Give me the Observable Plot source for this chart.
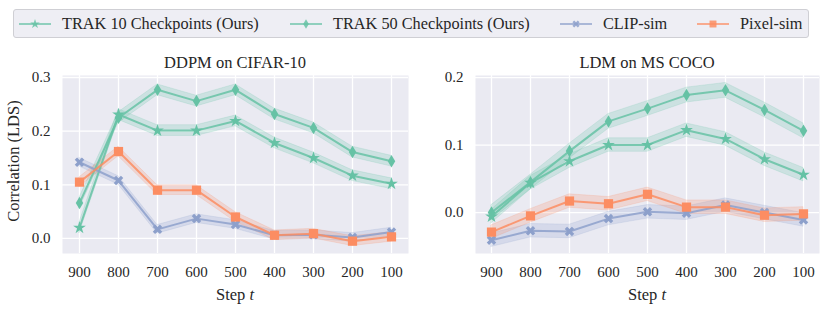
<!DOCTYPE html>
<html><head><meta charset="utf-8">
<script src="https://cdn.jsdelivr.net/npm/d3@7"></script>
<script src="https://cdn.jsdelivr.net/npm/@observablehq/plot@0.6"></script>
<style>
body{margin:0;background:#fff;font-family:"Liberation Serif",serif;}
#wrap{position:relative;width:830px;height:314px;overflow:hidden}
#legend{position:absolute;left:13px;top:9px;width:794px;height:27px;border:1px solid #cfcfd4;border-radius:3px;background:#eeeef4;}
.item{position:absolute;top:0;height:27px;display:flex;align-items:center;font-size:16.3px;color:#262626;white-space:nowrap}
.item svg{margin-right:11px}
#left{position:absolute;left:0;top:45px}
#right{position:absolute;left:415px;top:45px}
svg text{font-family:"Liberation Serif",serif !important;}
</style></head><body>
<div id="wrap"><div id="legend"></div><div id="left"></div><div id="right"></div></div>
<script>
// ---------- data ----------
const steps = [900, 800, 700, 600, 500, 400, 300, 200, 100];
const seriesNames = ["TRAK 10 Checkpoints (Ours)", "TRAK 50 Checkpoints (Ours)", "CLIP-sim", "Pixel-sim"];
const seriesColors = ["#66c2a5", "#66c2a5", "#8da0cb", "#fc8d62"];

// DDPM on CIFAR-10
const ddpmTrak10 = [0.020, 0.231, 0.201, 0.201, 0.219, 0.178, 0.150, 0.117, 0.102];
const ddpmTrak50 = [0.066, 0.225, 0.277, 0.256, 0.277, 0.232, 0.206, 0.161, 0.144];
const ddpmClip   = [0.142, 0.108, 0.017, 0.037, 0.026, 0.006, 0.007, 0.002, 0.012];
const ddpmPixel  = [0.105, 0.162, 0.090, 0.090, 0.040, 0.006, 0.009, -0.005, 0.003];
const ddpmErr    = [0.010, 0.010, 0.008, 0.009];
const ddpmTicks  = [0, 0.1, 0.2, 0.3];

// LDM on MS COCO
const ldmTrak10 = [-0.006, 0.044, 0.076, 0.100, 0.100, 0.122, 0.109, 0.079, 0.056];
const ldmTrak50 = [0.000, 0.045, 0.091, 0.135, 0.154, 0.174, 0.181, 0.152, 0.121];
const ldmClip   = [-0.041, -0.027, -0.028, -0.009, 0.001, -0.001, 0.011, 0.000, -0.011];
const ldmPixel  = [-0.029, -0.005, 0.017, 0.013, 0.027, 0.008, 0.008, -0.004, -0.002];
const ldmErr    = [0.010, 0.011, 0.010, 0.010];
const ldmTicks  = [0, 0.1, 0.2];

// ---------- symbols ----------
const thinDiamond = {draw(ctx, size) {
  const r = Math.sqrt(size / Math.PI);
  ctx.moveTo(0, -r * 1.25); ctx.lineTo(r * 0.75, 0); ctx.lineTo(0, r * 1.25); ctx.lineTo(-r * 0.75, 0); ctx.closePath();
}};
const filledX = {draw(ctx, size) {
  const r = Math.sqrt(size / Math.PI), a = r * 1.1, t = r * 0.36;
  const pts = [[-t,-a],[t,-a],[t,-t],[a,-t],[a,t],[t,t],[t,a],[-t,a],[-t,t],[-a,t],[-a,-t],[-t,-t]];
  pts.forEach(([x, y], i) => {
    const X = (x - y) / Math.SQRT2, Y = (x + y) / Math.SQRT2;
    i ? ctx.lineTo(X, Y) : ctx.moveTo(X, Y);
  });
  ctx.closePath();
}};
const seriesSymbols = [d3.symbolStar, thinDiamond, filledX, d3.symbolSquare];
const seriesR = [4.0, 5.0, 4.6, 5.2];

const FONT = "Liberation Serif";
const LABEL_SIZE = 16.5;

function panel({vals, err, yDomain, yTicks, width, marginLeft, marginRight, padding, title, ylabel}) {
  const rows = [];
  seriesNames.forEach((s, i) => steps.forEach((t, j) => {
    const v = vals[i][j];
    rows.push({series: s, step: t, v, lo: v - err[i], hi: v + err[i]});
  }));
  const marks = [
    Plot.frame({fill: "#eaeaf2", stroke: null}),
    Plot.ruleY(yTicks, {stroke: "white", strokeWidth: 1.3}),
    Plot.ruleX(steps, {stroke: "white", strokeWidth: 1.3}),
  ];
  seriesNames.forEach((s, i) => {
    const d = rows.filter(r => r.series === s);
    marks.push(Plot.areaY(d, {x: "step", y1: "lo", y2: "hi", fill: seriesColors[i], fillOpacity: 0.22, stroke: seriesColors[i], strokeOpacity: 0.18, strokeWidth: 1}));
  });
  seriesNames.forEach((s, i) => {
    const d = rows.filter(r => r.series === s);
    marks.push(Plot.line(d, {x: "step", y: "v", stroke: seriesColors[i], strokeWidth: 2, strokeOpacity: 0.85}));
    marks.push(Plot.dot(d, {x: "step", y: "v", fill: seriesColors[i], symbol: seriesSymbols[i], r: seriesR[i], stroke: null}));
  });
  const svg = Plot.plot({
    width, height: 269,
    marginLeft, marginRight, marginTop: 30, marginBottom: 61,
    style: {fontFamily: FONT, fontSize: "15px", color: "#262626", background: "transparent"},
    x: {type: "point", domain: steps, padding, tickSize: 0, tickPadding: 13, label: null},
    y: {domain: yDomain, ticks: yTicks, tickFormat: d3.format(".1f"), tickSize: 0, tickPadding: 12, label: null},
    marks
  });
  const s = d3.select(svg);
  s.selectAll("text").attr("font-family", FONT);
  const cx = marginLeft + (width - marginLeft - marginRight) / 2;
  s.append("text").attr("x", cx).attr("y", 23).attr("text-anchor", "middle")
    .attr("font-family", FONT).attr("font-size", LABEL_SIZE).attr("fill", "#262626").text(title);
  const xl = s.append("text").attr("x", cx).attr("y", 255).attr("text-anchor", "middle")
    .attr("font-family", FONT).attr("font-size", LABEL_SIZE).attr("fill", "#262626");
  xl.append("tspan").text("Step ");
  xl.append("tspan").attr("font-style", "italic").text("t");
  if (ylabel) {
    s.append("text").attr("transform", "translate(15,116) rotate(-90)").attr("text-anchor", "middle")
      .attr("dominant-baseline", "middle")
      .attr("font-family", FONT).attr("font-size", LABEL_SIZE).attr("fill", "#262626").text(ylabel);
  }
  return svg;
}

document.getElementById("left").appendChild(panel({
  vals: [ddpmTrak10, ddpmTrak50, ddpmClip, ddpmPixel], err: ddpmErr,
  yDomain: [-0.028, 0.3037], yTicks: ddpmTicks, width: 415, marginLeft: 62, marginRight: 7, padding: 0.38,
  title: "DDPM on CIFAR-10", ylabel: "Correlation (LDS)"
}));
document.getElementById("right").appendChild(panel({
  vals: [ldmTrak10, ldmTrak50, ldmClip, ldmPixel], err: ldmErr,
  yDomain: [-0.0607, 0.203], yTicks: ldmTicks, width: 415, marginLeft: 60, marginRight: 11, padding: 0.37,
  title: "LDM on MS COCO", ylabel: null
}));

// ---------- legend ----------
const legendX = [5, 276, 546, 683];
const legend = d3.select("#legend");
seriesNames.forEach((s, i) => {
  const item = legend.append("div").attr("class", "item").style("left", legendX[i] + "px");
  const sv = item.append("svg").attr("width", 32).attr("height", 16);
  sv.append("line").attr("x1", 0).attr("x2", 32).attr("y1", 8).attr("y2", 8)
    .attr("stroke", seriesColors[i]).attr("stroke-width", 2).attr("stroke-opacity", 0.7);
  sv.append("path").attr("transform", "translate(16,8)")
    .attr("d", d3.symbol(seriesSymbols[i], Math.PI * Math.pow(seriesR[i] * 0.75, 2))())
    .attr("fill", seriesColors[i]).attr("fill-opacity", 0.85);
  item.append("span").text(s);
});
</script>
</body></html>
